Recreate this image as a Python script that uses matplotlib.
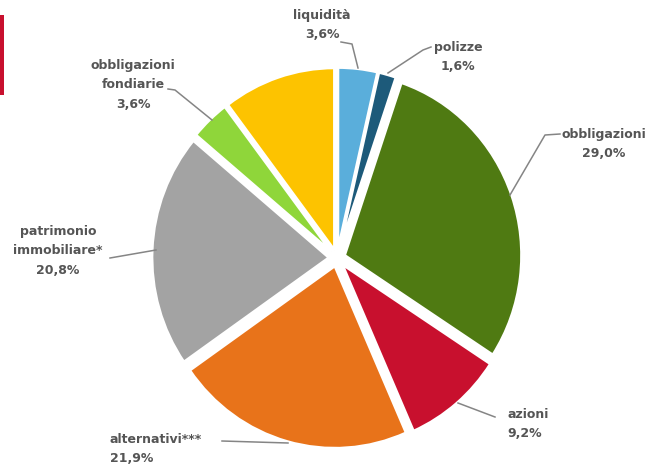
import matplotlib.pyplot as plt
from matplotlib.patches import Rectangle

# composizione del patrimonio (%), in senso orario dall'alto
labels = ["liquidità", "polizze", "obbligazioni", "azioni", "alternativi***",
          "patrimonio\nimmobiliare*", "obbligazioni\nfondiarie", ""]
values = [3.6, 1.6, 29.0, 9.2, 21.9, 20.8, 3.6, 10.3]
pct_text = ["3,6%", "1,6%", "29,0%", "9,2%", "21,9%", "20,8%", "3,6%", ""]
colors = ["#5aaedb", "#1d5a7a", "#4f7a12", "#c8102e", "#e8731a",
          "#a3a3a3", "#8fd63a", "#fdc300"]

W, H = 659, 466
S = 1.03  # leggero allungamento verticale come nell'originale
fig = plt.figure(figsize=(W / 100, H / 100), dpi=100, facecolor="white")
ax = fig.add_axes([0, 0, 1, 1])

def Y(py):
    return (H - py) / S

cx, cy, r = 337, 258, 177
ax.pie(values, colors=colors, startangle=90, counterclock=False,
       center=(cx, Y(cy)), radius=r, explode=[8] * len(values),
       wedgeprops=dict(edgecolor="white", linewidth=2))
ax.set_xlim(0, W)
ax.set_ylim(0, H / S)
ax.set_aspect("auto")
ax.axis("off")

# barra rossa a sinistra
ax.add_patch(Rectangle((0, Y(95)), 4, 80 / S, color="#c8102e", lw=0))

txt = dict(color="#555555", fontsize=9, fontweight="bold",
           family="DejaVu Sans", linespacing=1.65)
line = dict(color="#858585", lw=1.1)

def P(pts):
    ax.plot([p[0] for p in pts], [Y(p[1]) for p in pts], **line)

# testo: (x, y centro, allineamento)
place = [
    (322, 25, "center"),
    (458, 57, "center"),
    (604, 144, "center"),
    (507, 424, "left"),
    (110, 449, "left"),
    (58, 251, "center"),
    (133, 85, "center"),
]
leaders = [
    [(341, 42), (352, 44), (358, 68)],
    [(431, 47), (423, 50), (388, 73)],
    [(560, 134), (545, 135), (510, 195)],
    [(495, 417), (458, 403)],
    [(222, 441), (288, 443)],
    [(110, 258), (156, 250)],
    [(168, 89), (175, 90), (212, 120)],
]

for i, (x, y, ha) in enumerate(place):
    ax.text(x, Y(y), labels[i] + "\n" + pct_text[i], ha=ha, va="center", **txt)
    P(leaders[i])

fig.savefig("out.png", dpi=100, facecolor="white")
